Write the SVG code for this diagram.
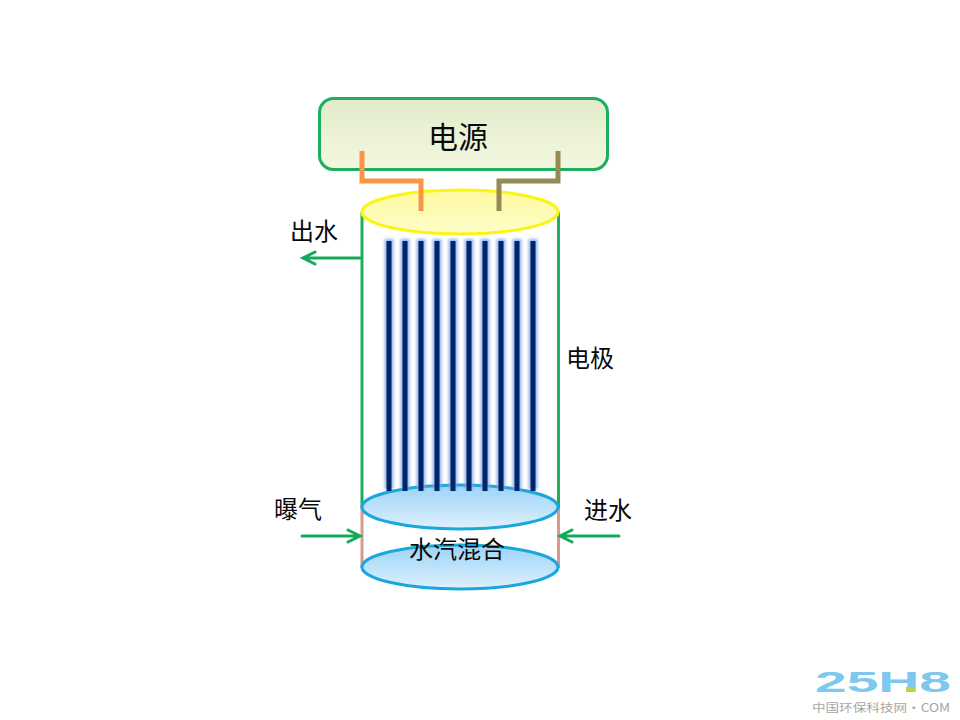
<svg xmlns="http://www.w3.org/2000/svg" width="960" height="720" viewBox="0 0 960 720">
<style>
text{font-family:"Noto Sans CJK SC","Noto Sans",sans-serif;fill:#0a0a0a;font-size:24px;text-anchor:middle}
.wall{fill:none;stroke:#1fae5e;stroke-width:3}
.salmon{fill:none;stroke:#d99a8c;stroke-width:3}
.arrow{fill:none;stroke:#13ab5a;stroke-width:3;stroke-linecap:round;stroke-linejoin:miter}
.disk{fill:url(#blue);stroke:#1aa7dc;stroke-width:3}
.glow{fill:#7fa8e6;opacity:.85;filter:url(#blur)}
.rod{fill:#002469}
</style>
<defs>
<linearGradient id="pw" x1="0" y1="0" x2="0" y2="1"><stop offset="0" stop-color="#e2ebcb"/><stop offset="1" stop-color="#f3f8e0"/></linearGradient>
<linearGradient id="blue" x1="0" y1="0" x2="0" y2="1"><stop offset="0" stop-color="#9bd3f7"/><stop offset="1" stop-color="#dff1fd"/></linearGradient>
<linearGradient id="yel" x1="0" y1="0" x2="0" y2="1"><stop offset="0" stop-color="#fdf9a0"/><stop offset="1" stop-color="#fffdc8"/></linearGradient>
<filter id="blur" x="-100%" y="-5%" width="300%" height="110%"><feGaussianBlur stdDeviation="1.5"/></filter>
</defs>
<rect width="960" height="720" fill="#fff"/>
<g id="power"><rect x="319.500" y="98.500" width="288" height="71" rx="14" fill="url(#pw)" stroke="#1fae5e" stroke-width="3"/><text x="458" y="148" style="font-size:30px">电源</text></g>
<g id="reactor-wall">
<path class="wall" d="M362 212V508M558.500 212V508"/>
<path class="salmon" d="M362 508V568M558.500 508V568"/>
</g>
<g id="top-disk"><ellipse cx="460" cy="212" rx="98" ry="22" fill="url(#yel)" stroke="#f9f516" stroke-width="3"/></g>
<g id="mid-disk"><ellipse cx="460" cy="507" rx="98" ry="22" class="disk"/></g>
<g id="bottom-disk"><ellipse cx="460" cy="567" rx="98" ry="22" class="disk"/></g>
<g id="electrodes">
<rect class="glow" x="384.500" y="239" width="9" height="250"/><rect class="glow" x="400.500" y="239" width="9" height="250"/><rect class="glow" x="416.500" y="239" width="9" height="250"/><rect class="glow" x="432.500" y="239" width="9" height="250"/><rect class="glow" x="448.500" y="239" width="9" height="250"/><rect class="glow" x="464.500" y="239" width="9" height="250"/><rect class="glow" x="480.500" y="239" width="9" height="250"/><rect class="glow" x="496.500" y="239" width="9" height="250"/><rect class="glow" x="512.500" y="239" width="9" height="250"/><rect class="glow" x="528.500" y="239" width="9" height="250"/>
<rect class="rod" x="386.500" y="241" width="5" height="250"/><rect class="rod" x="402.500" y="241" width="5" height="250"/><rect class="rod" x="418.500" y="241" width="5" height="250"/><rect class="rod" x="434.500" y="241" width="5" height="250"/><rect class="rod" x="450.500" y="241" width="5" height="250"/><rect class="rod" x="466.500" y="241" width="5" height="250"/><rect class="rod" x="482.500" y="241" width="5" height="250"/><rect class="rod" x="498.500" y="241" width="5" height="250"/><rect class="rod" x="514.500" y="241" width="5" height="250"/><rect class="rod" x="530.500" y="241" width="5" height="250"/>
</g>
<g id="connectors">
<path d="M362 151V181H421V211" fill="none" stroke="#f79646" stroke-width="5"/>
<path d="M558 151V181H499V211" fill="none" stroke="#948a54" stroke-width="5"/>
<path class="arrow" d="M360 258H303M315 252L303 258L315 264"/>
<path class="arrow" d="M302 536H360M348 530L360 536L348 542"/>
<path class="arrow" d="M619 536H560M572 530L560 536L572 542"/>
</g>
<g id="labels">
<text x="314" y="240">出水</text>
<text x="590" y="367">电极</text>
<text x="298" y="518">曝气</text>
<text x="608" y="519">进水</text>
<text x="457" y="558">水汽混合</text>
</g>
<g id="logo">
<text x="883" y="692" textLength="136" lengthAdjust="spacingAndGlyphs" style="font-family:'Liberation Sans',sans-serif;font-size:29px;font-weight:700;fill:#7cc8ee">25H8</text>
<rect x="906" y="687" width="9" height="5" fill="#b5d84a"/>
<text x="881" y="712" textLength="138" lengthAdjust="spacingAndGlyphs" style="font-size:11.500px;fill:#a6a6a6">中国环保科技网·COM</text>
</g>
</svg>
